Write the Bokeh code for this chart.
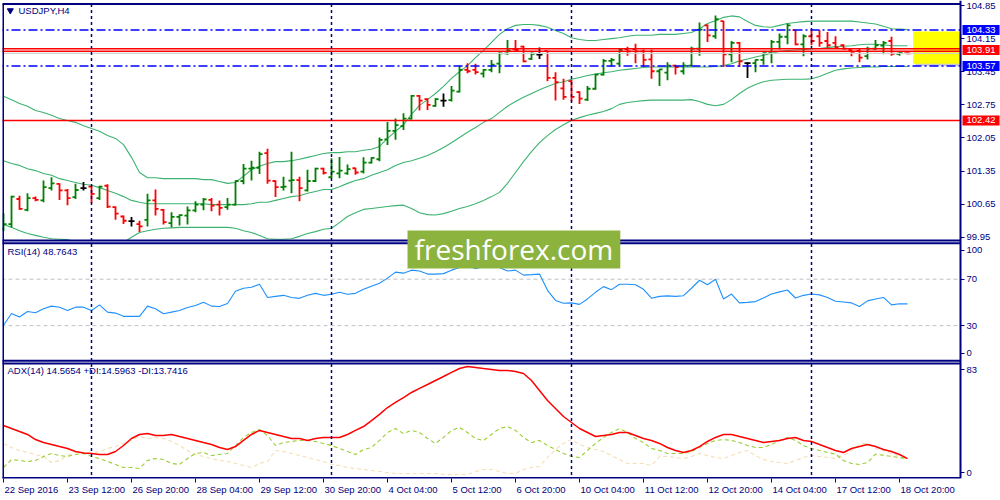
from bokeh.plotting import figure
from bokeh.models import Range1d, FixedTicker, CustomJSTickFormatter, Label
from bokeh.core.properties import value
from bokeh.embed import file_html
from bokeh.resources import INLINE

# ---------------- data (USDJPY H4, 22 Sep 2016 - 19 Oct 2016) ----------------
OPEN = [100.13, 100.23, 100.76, 100.53, 100.78, 100.73, 100.99, 101.08, 100.94, 100.80,
        100.99, 101.02, 100.78, 101.04, 100.59, 100.39, 100.29, 100.23, 100.32, 100.73,
        100.53, 100.25, 100.38, 100.41, 100.52, 100.64, 100.74, 100.64, 100.59, 100.64,
        101.14, 101.40, 101.42, 101.73, 101.14, 101.01, 101.15, 101.16, 100.94, 101.14,
        101.40, 101.22, 101.30, 101.30, 101.41, 101.34, 101.53, 101.60, 102.02, 102.20,
        102.30, 102.46, 102.94, 102.87, 102.73, 102.84, 102.85, 103.03, 103.49, 103.49,
        103.41, 103.49, 103.62, 103.84, 103.93, 103.98, 103.72, 103.81, 103.89, 103.32,
        103.10, 103.25, 103.02, 102.86, 103.09, 103.39, 103.68, 103.62, 103.93, 103.93,
        103.88, 103.71, 103.46, 103.43, 103.58, 103.46, 103.58, 103.94, 104.43, 104.20,
        104.52, 103.82, 104.06, 103.63, 103.63, 103.70, 103.85, 104.08, 104.19, 104.33,
        104.03, 104.20, 104.20, 104.10, 104.06, 104.01, 103.91, 103.89, 103.78, 103.94,
        104.00, 104.10, 103.83, 103.87]
HIGH = [100.46, 100.83, 100.83, 100.88, 100.81, 101.15, 101.22, 101.09, 100.97, 101.08,
        101.12, 101.04, 101.04, 101.07, 100.60, 100.41, 100.38, 100.30, 100.87, 100.96,
        100.55, 100.48, 100.43, 100.60, 100.71, 100.78, 100.78, 100.73, 100.78, 101.15,
        101.50, 101.57, 101.76, 101.82, 101.15, 101.23, 101.76, 101.23, 101.38, 101.42,
        101.42, 101.62, 101.65, 101.49, 101.42, 101.64, 101.64, 102.06, 102.39, 102.46,
        102.57, 102.96, 102.96, 102.89, 102.89, 102.99, 103.15, 103.57, 103.63, 103.62,
        103.51, 103.70, 103.89, 104.12, 104.12, 104.00, 103.86, 103.96, 103.89, 103.44,
        103.30, 103.28, 103.04, 103.15, 103.41, 103.72, 103.74, 103.93, 103.98, 104.04,
        103.92, 103.92, 103.51, 103.65, 103.60, 103.65, 103.98, 104.49, 104.45, 104.64,
        104.52, 104.10, 104.08, 103.65, 103.71, 103.89, 104.12, 104.26, 104.47, 104.33,
        104.24, 104.33, 104.33, 104.29, 104.20, 104.03, 103.92, 103.93, 103.98, 104.12,
        104.10, 104.19, 103.89, 103.89]
LOW = [100.08, 100.16, 100.53, 100.50, 100.71, 100.69, 100.94, 100.74, 100.63, 100.76,
       100.94, 100.67, 100.74, 100.57, 100.32, 100.23, 100.18, 100.06, 100.18, 100.41,
       100.22, 100.16, 100.20, 100.22, 100.48, 100.52, 100.50, 100.41, 100.53, 100.62,
       101.07, 101.15, 101.29, 101.08, 100.80, 100.94, 100.88, 100.71, 100.92, 101.12,
       101.28, 101.20, 101.20, 101.27, 101.27, 101.30, 101.51, 101.56, 101.90, 102.01,
       102.22, 102.44, 102.63, 102.64, 102.71, 102.71, 102.82, 103.01, 103.42, 103.39,
       103.33, 103.44, 103.42, 103.81, 103.88, 103.65, 103.70, 103.72, 103.25, 102.84,
       102.86, 102.82, 102.77, 102.83, 103.07, 103.37, 103.56, 103.58, 103.79, 103.63,
       103.55, 103.30, 103.15, 103.27, 103.39, 103.39, 103.57, 103.79, 104.08, 104.15,
       103.55, 103.65, 103.55, 103.32, 103.44, 103.60, 103.63, 103.92, 104.03, 104.01,
       103.78, 104.01, 103.98, 103.96, 103.93, 103.92, 103.78, 103.65, 103.71, 103.91,
       103.82, 103.79, 103.79, 103.82]
CLOSE = [100.23, 100.81, 100.55, 100.78, 100.74, 101.01, 101.09, 100.94, 100.78, 100.95,
         100.99, 100.87, 101.02, 100.60, 100.45, 100.30, 100.29, 100.18, 100.73, 100.55,
         100.27, 100.38, 100.42, 100.52, 100.64, 100.75, 100.62, 100.57, 100.64, 101.14,
         101.40, 101.42, 101.71, 101.15, 101.01, 101.02, 101.16, 100.99, 101.14, 101.40,
         101.31, 101.34, 101.36, 101.39, 101.32, 101.53, 101.63, 102.01, 102.20, 102.32,
         102.46, 102.94, 102.84, 102.75, 102.87, 102.84, 103.05, 103.49, 103.46, 103.44,
         103.49, 103.60, 103.84, 103.90, 103.91, 103.67, 103.83, 103.81, 103.32, 103.23,
         102.92, 102.92, 102.88, 103.09, 103.39, 103.68, 103.70, 103.91, 103.88, 103.88,
         103.70, 103.46, 103.50, 103.58, 103.55, 103.58, 103.94, 104.34, 104.22, 104.56,
         103.82, 104.06, 103.67, 103.63, 103.70, 103.85, 104.08, 104.19, 104.43, 104.03,
         104.20, 104.10, 104.06, 104.01, 103.96, 103.94, 103.87, 103.75, 103.94, 104.01,
         104.06, 103.83, 103.85, 103.84]

BB_UPPER = [102.93, 102.86, 102.78, 102.72, 102.63, 102.59, 102.53, 102.46, 102.42, 102.38,
            102.31, 102.25, 102.19, 102.10, 102.04, 101.91, 101.64, 101.32, 101.21, 101.21,
            101.19, 101.19, 101.19, 101.19, 101.19, 101.17, 101.17, 101.13, 101.09, 101.11,
            101.24, 101.38, 101.45, 101.51, 101.55, 101.55, 101.57, 101.60, 101.64, 101.68,
            101.72, 101.74, 101.74, 101.76, 101.76, 101.79, 101.81, 101.87, 102.04, 102.19,
            102.33, 102.55, 102.74, 102.86, 102.99, 103.14, 103.31, 103.45, 103.58, 103.75,
            103.90, 104.07, 104.24, 104.36, 104.43, 104.45, 104.45, 104.43, 104.39, 104.32,
            104.26, 104.17, 104.13, 104.11, 104.11, 104.13, 104.15, 104.17, 104.20, 104.22,
            104.22, 104.22, 104.24, 104.24, 104.24, 104.26, 104.28, 104.36, 104.47, 104.53,
            104.60, 104.63, 104.61, 104.51, 104.43, 104.40, 104.39, 104.43, 104.47, 104.49,
            104.51, 104.52, 104.52, 104.52, 104.52, 104.52, 104.52, 104.50, 104.48, 104.46,
            104.41, 104.36, 104.35, 104.34]
BB_MIDDLE = [101.57, 101.51, 101.47, 101.40, 101.36, 101.30, 101.26, 101.19, 101.15, 101.11,
             101.07, 101.05, 101.00, 100.94, 100.88, 100.81, 100.73, 100.69, 100.66, 100.66,
             100.66, 100.66, 100.66, 100.66, 100.66, 100.66, 100.64, 100.64, 100.64, 100.64,
             100.64, 100.66, 100.69, 100.69, 100.73, 100.77, 100.81, 100.83, 100.88, 100.92,
             100.96, 100.96, 101.02, 101.09, 101.15, 101.19, 101.26, 101.32, 101.38, 101.47,
             101.53, 101.57, 101.62, 101.68, 101.76, 101.85, 101.95, 102.06, 102.17, 102.27,
             102.38, 102.46, 102.59, 102.72, 102.82, 102.91, 102.99, 103.07, 103.14, 103.20,
             103.24, 103.29, 103.33, 103.37, 103.40, 103.43, 103.45, 103.48, 103.50, 103.52,
             103.54, 103.55, 103.55, 103.55, 103.55, 103.55, 103.55, 103.55, 103.55, 103.56,
             103.58, 103.62, 103.68, 103.72, 103.76, 103.80, 103.84, 103.88, 103.90, 103.91,
             103.92, 103.93, 103.94, 103.96, 103.98, 103.99, 104.00, 104.02, 104.03, 104.03,
             104.02, 104.00, 104.00, 104.00]
BB_LOWER = [100.22, 100.16, 100.09, 100.03, 99.99, 99.95, 99.92, 99.91, 99.90, 99.86,
            99.80, 99.76, 99.73, 99.71, 99.76, 99.84, 99.95, 100.05, 100.09, 100.12,
            100.14, 100.15, 100.16, 100.16, 100.16, 100.16, 100.16, 100.16, 100.16, 100.14,
            100.09, 100.05, 99.99, 99.92, 99.91, 99.91, 99.92, 99.97, 100.03, 100.07,
            100.12, 100.14, 100.26, 100.39, 100.47, 100.54, 100.56, 100.58, 100.60, 100.62,
            100.63, 100.56, 100.47, 100.43, 100.42, 100.45, 100.50, 100.56, 100.60, 100.66,
            100.73, 100.81, 100.90, 101.09, 101.32, 101.55, 101.76, 101.95, 102.10, 102.23,
            102.33, 102.42, 102.48, 102.53, 102.57, 102.61, 102.67, 102.76, 102.80, 102.82,
            102.84, 102.85, 102.85, 102.85, 102.85, 102.85, 102.86, 102.82, 102.76, 102.73,
            102.76, 102.86, 102.99, 103.10, 103.18, 103.24, 103.27, 103.28, 103.29, 103.29,
            103.29, 103.30, 103.35, 103.42, 103.48, 103.51, 103.53, 103.54, 103.55, 103.55,
            103.56, 103.56, 103.56, 103.56]

RSI = [30.3, 40.4, 37.4, 42.2, 41.1, 44.5, 46.8, 45.9, 43.0, 45.9,
       45.9, 43.0, 47.9, 41.6, 40.8, 38.0, 38.0, 38.0, 46.8, 44.5,
       40.2, 41.6, 43.0, 45.6, 47.4, 50.2, 46.8, 46.5, 49.1, 59.6,
       62.2, 63.0, 65.6, 54.3, 55.2, 56.1, 54.3, 53.5, 56.1, 57.8,
       56.1, 57.0, 58.7, 57.0, 57.8, 61.3, 63.9, 66.5, 70.9, 76.1,
       75.2, 77.8, 77.0, 74.4, 74.4, 74.8, 77.8, 80.0, 82.0, 79.0,
       81.0, 83.0, 80.0, 77.0, 77.8, 73.5, 73.9, 74.4, 60.4, 51.7,
       49.3, 49.6, 48.3, 53.0, 58.7, 63.6, 61.0, 65.6, 65.6, 65.2,
       61.3, 53.6, 55.2, 55.6, 55.2, 55.8, 62.2, 69.1, 65.2, 70.0,
       53.0, 57.2, 49.6, 50.0, 50.7, 53.9, 57.2, 59.1, 60.7, 53.8,
       56.1, 57.2, 56.5, 54.3, 51.0, 50.4, 49.6, 46.5, 51.3, 53.0,
       54.3, 47.9, 48.8, 48.7643]

ADX = [40.0, 37.7, 35.4, 33.1, 29.2, 26.9, 25.4, 23.8, 22.3, 20.0,
       18.8, 18.5, 17.7, 17.7, 20.0, 24.6, 30.0, 33.1, 33.8, 32.3,
       32.3, 33.1, 31.5, 30.0, 28.5, 26.9, 25.4, 23.1, 21.5, 23.8,
       28.5, 33.1, 36.2, 34.6, 33.1, 31.5, 30.0, 30.0, 28.5, 30.0,
       30.8, 30.8, 30.8, 33.1, 36.2, 39.2, 43.8, 48.5, 53.8, 57.7,
       61.5, 65.4, 68.5, 71.5, 74.6, 77.7, 80.8, 83.8, 85.4, 84.6,
       83.8, 83.1, 82.3, 82.3, 81.5, 80.0, 74.6, 66.9, 59.2, 53.1,
       46.9, 42.3, 37.7, 34.6, 31.5, 32.3, 33.1, 34.6, 34.6, 32.3,
       30.0, 28.5, 26.2, 23.1, 20.8, 19.2, 20.8, 23.8, 27.7, 30.8,
       33.1, 33.1, 31.5, 30.0, 28.5, 26.9, 27.7, 28.5, 30.0, 30.8,
       28.5, 27.7, 25.4, 23.1, 20.8, 19.2, 22.3, 23.8, 25.4, 23.8,
       21.5, 20.0, 17.7, 14.5654]
PLUS_DI = [7.7, 13.8, 13.1, 12.3, 13.1, 16.2, 18.5, 16.9, 16.2, 17.7,
           18.5, 16.2, 14.6, 12.3, 10.0, 7.7, 7.7, 6.9, 13.1, 14.6,
           13.8, 10.8, 10.0, 14.6, 18.5, 19.2, 16.9, 17.7, 18.5, 24.6,
           30.8, 34.6, 36.9, 32.3, 24.6, 26.9, 27.7, 28.5, 28.5, 27.7,
           26.2, 24.6, 22.3, 20.0, 17.7, 21.5, 23.1, 28.5, 34.6, 37.7,
           33.8, 36.2, 34.6, 30.0, 26.2, 30.8, 36.2, 38.5, 34.6, 30.0,
           28.5, 33.1, 37.7, 39.2, 36.2, 30.8, 26.9, 28.5, 24.6, 21.5,
           18.5, 16.2, 15.4, 20.8, 26.2, 30.8, 34.6, 37.7, 34.6, 30.0,
           26.9, 22.3, 20.8, 18.5, 18.5, 18.5, 20.0, 23.1, 26.2, 28.5,
           29.2, 28.5, 26.9, 24.6, 23.1, 23.1, 25.4, 28.5, 30.8, 28.5,
           24.6, 22.3, 20.8, 19.2, 18.0, 13.1, 10.8, 10.0, 11.5, 18.0,
           17.0, 16.2, 15.4, 14.5963]
MINUS_DI = [26.2, 23.1, 20.8, 19.2, 17.7, 16.2, 11.5, 13.1, 16.9, 19.2,
            19.2, 18.5, 20.0, 22.3, 23.8, 26.2, 28.5, 31.5, 30.0, 30.8,
            30.0, 27.7, 24.6, 20.8, 17.7, 16.2, 14.6, 13.1, 12.3, 10.8,
            9.2, 7.7, 10.8, 12.3, 20.8, 20.0, 18.5, 16.9, 15.4, 13.8,
            12.3, 10.0, 9.2, 7.7, 6.9, 6.2, 5.4, 4.6, 3.8, 3.1,
            3.1, 3.1, 3.1, 3.1, 3.1, 2.3, 2.3, 2.3, 2.3, 4.6,
            6.2, 6.2, 4.6, 3.1, 3.1, 6.2, 7.7, 8.5, 15.4, 21.5,
            26.2, 29.2, 25.4, 23.1, 21.5, 20.0, 16.9, 13.8, 10.8, 10.8,
            10.8, 9.2, 16.2, 16.2, 15.4, 14.6, 16.2, 18.5, 16.9, 15.4,
            14.6, 16.9, 19.2, 20.8, 16.9, 13.8, 12.3, 11.5, 10.8, 13.1,
            15.4, 16.9, 16.2, 15.4, 14.6, 16.9, 20.8, 25.4, 26.2, 22.3,
            20.8, 18.5, 16.2, 13.7416]

X_TICK_BARS = [0, 8, 16, 24, 32, 40, 48, 56, 64, 72, 80, 88, 96, 104, 112]
X_TICK_LABELS = ["22 Sep 2016", "23 Sep 12:00", "26 Sep 20:00", "28 Sep 04:00", "29 Sep 12:00",
                 "30 Sep 20:00", "4 Oct 04:00", "5 Oct 12:00", "6 Oct 20:00", "10 Oct 04:00",
                 "11 Oct 12:00", "12 Oct 20:00", "14 Oct 04:00", "17 Oct 12:00", "18 Oct 20:00"]
WEEK_SEPARATORS = [11, 41, 71, 101]
PRICE_TICKS = [99.95, 100.65, 101.35, 102.05, 102.75, 103.45, 104.15, 104.85]
BLUE_LEVELS = [104.33, 103.57]
RED_LEVELS = [103.91, 102.42]
RSI_LEVELS = [70, 30]

# ---------------- styles / layout ----------------
FONT = "Liberation Sans"
FS = "9.5px"
NAVY = "#000080"
BB_COL = "#3CB371"
W, H = 1000, 500
ML, MR, MT, MB = 2, 0, 0, 22
FRAME_W = W - ML - MR
FRAME_H = H - MT - MB
PX_PER_BAR = 8.0
X_START = -0.125
X_FULL = X_START + FRAME_W / PX_PER_BAR      # frame runs to the window edge
X_RIGHT = 119.625                              # right border of the chart panels (price scale line)
PRICE_LO, PRICE_HI = 94.851, 104.956
RSI_LO, RSI_HI = -101.7, 310.1
ADX_LO, ADX_HI = -0.77, 366.85
TOP_BORDER = 104.882
MAIN_BOTTOM = 99.882
RSI_TOP, RSI_BOTTOM = 100.9, -0.3
ADX_TOP, ADX_BOTTOM = 87.6, -0.4

N = len(CLOSE)
idx = list(range(N))


def rsi_to_price(v):
    return PRICE_LO + (v - RSI_LO) * (PRICE_HI - PRICE_LO) / (RSI_HI - RSI_LO)


def adx_to_price(v):
    return PRICE_LO + (v - ADX_LO) * (PRICE_HI - PRICE_LO) / (ADX_HI - ADX_LO)


p = figure(width=W, height=H, x_range=Range1d(X_START, X_FULL), y_range=Range1d(PRICE_LO, PRICE_HI),
           y_axis_location="right", output_backend="svg", toolbar_location=None,
           min_border_left=ML, min_border_right=MR, min_border_top=MT, min_border_bottom=MB,
           background_fill_color="white", border_fill_color="white")
p.extra_y_ranges = {"rsi": Range1d(RSI_LO, RSI_HI), "adx": Range1d(ADX_LO, ADX_HI)}
p.xgrid.visible = False
p.ygrid.visible = False
p.outline_line_color = None

# yellow box with shadow (right side)
BOX_L, BOX_R, BOX_T, BOX_B = 113.7, 119.5, 104.30, 103.62
p.quad(left=[BOX_L + 0.3], right=[BOX_R + 0.3], top=[BOX_T - 0.05], bottom=[BOX_B - 0.05],
       fill_color="#8c8c8c", fill_alpha=0.45, line_color=None)
p.quad(left=[BOX_L], right=[BOX_R], top=[BOX_T], bottom=[BOX_B], fill_color="#FFFF00", line_color=None)

# bollinger bands
for band in (BB_UPPER, BB_MIDDLE, BB_LOWER):
    p.line(idx, band, line_color=BB_COL, line_width=1.1)

# OHLC bars
cols = ["#008000" if c > o else ("#FF0000" if c < o else "#000000") for o, c in zip(OPEN, CLOSE)]
TICK = 0.38
p.segment(x0=idx, y0=LOW, x1=idx, y1=HIGH, line_color=cols, line_width=1.8)
p.segment(x0=[i - TICK for i in idx], y0=OPEN, x1=idx, y1=OPEN, line_color=cols, line_width=1.8)
p.segment(x0=idx, y0=CLOSE, x1=[i + TICK for i in idx], y1=CLOSE, line_color=cols, line_width=1.8)


def hlines(ys, y_range_name="default", **kw):
    p.segment(x0=[X_START - 1] * len(ys), x1=[X_RIGHT] * len(ys), y0=ys, y1=ys,
              y_range_name=y_range_name, **kw)


# horizontal levels
hlines(BLUE_LEVELS, line_color="#0000FF", line_width=1.5, line_dash="9 3 2 3")
hlines([RED_LEVELS[0] + 0.025, RED_LEVELS[0] - 0.025], line_color="#FF0000", line_width=1.5)
hlines([CLOSE[-1]], line_color="#d0d0d0", line_width=1.2)
hlines([RED_LEVELS[1]], line_color="#FF0000", line_width=1.5)

# white cover under main panel
p.quad(left=[X_START - 2], right=[X_FULL + 2], top=[MAIN_BOTTOM], bottom=[PRICE_LO - 1],
       fill_color="white", line_color=None)

# RSI panel
hlines(RSI_LEVELS, y_range_name="rsi", line_color="#c0c0c0", line_width=1, line_dash="4 3")
p.line(idx, RSI, y_range_name="rsi", line_color="#1E90FF", line_width=1.1)

# ADX panel
p.line(idx, MINUS_DI, y_range_name="adx", line_color="#F5DEB3", line_width=1.1, line_dash="4 3")
p.line(idx, PLUS_DI, y_range_name="adx", line_color="#9ACD32", line_width=1.1, line_dash="4 3")
p.line(idx, ADX, y_range_name="adx", line_color="#FF0000", line_width=1.5)

# weekly separators
p.segment(x0=WEEK_SEPARATORS, x1=WEEK_SEPARATORS, y0=[TOP_BORDER] * 4, y1=[PRICE_LO] * 4,
          line_color=NAVY, line_width=1.5, line_dash="3 3")

# panel borders
hlines([TOP_BORDER, MAIN_BOTTOM], line_color=NAVY, line_width=2)
hlines([RSI_TOP, RSI_BOTTOM], y_range_name="rsi", line_color=NAVY, line_width=2)
hlines([ADX_TOP, ADX_BOTTOM], y_range_name="adx", line_color=NAVY, line_width=2)
p.segment(x0=[-0.0625], x1=[-0.0625], y0=[TOP_BORDER], y1=[PRICE_LO], line_color=NAVY, line_width=2)

# panel captions
p.scatter(x=[0.85], y=[104.745], marker="inverted_triangle", size=6, fill_color=NAVY, line_color=NAVY)
p.text(x=[1.875], y=[104.745], text=["USDJPY,H4"], text_font=value(FONT), text_font_size=FS,
       text_color=NAVY, text_baseline="middle", text_align="left")
p.text(x=[0.5], y=[94.0], text=["RSI(14) 48.7643"], y_range_name="rsi", text_font=value(FONT),
       text_font_size=FS, text_color=NAVY, text_baseline="middle", text_align="left")
p.text(x=[0.5], y=[82.3], text=["ADX(14) 14.5654 +DI:14.5963 -DI:13.7416"], y_range_name="adx",
       text_font=value(FONT), text_font_size=FS, text_color=NAVY, text_baseline="middle", text_align="left")

# watermark logo
p.quad(left=[50.5], right=[77.1], top=[100.094], bottom=[99.291], fill_color="#8DB33F", line_color=None)
p.text(x=[63.8], y=[99.70], text=["freshforex.com"], text_font=value("Open Sans"), text_font_size="28px",
       text_color="white", text_baseline="middle", text_align="center")

# ---------------- axes ----------------
yt = list(PRICE_TICKS)
yl = ["%.2f" % v for v in PRICE_TICKS]
for v, s in [(94.8, "100"), (70, "70"), (30, "30"), (6.0, "0")]:
    yt.append(rsi_to_price(v)); yl.append(s)
for v, s in [(83, "83"), (3.8, "0")]:
    yt.append(adx_to_price(v)); yl.append(s)

JS = """
for (let i = 0; i < t.length; i++) { if (Math.abs(t[i] - tick) < 1e-6) { return l[i]; } }
return "";
"""
ya = p.yaxis[0]
ya.fixed_location = X_RIGHT          # price scale drawn at the panels' right edge
ya.ticker = FixedTicker(ticks=yt)
ya.formatter = CustomJSTickFormatter(args=dict(t=yt, l=yl), code=JS)
ya.axis_line_color = NAVY
ya.axis_line_width = 2
ya.major_tick_line_color = NAVY
ya.major_tick_out = 4
ya.major_tick_in = 0
ya.major_label_standoff = 2
ya.major_label_text_font = FONT
ya.major_label_text_font_size = FS
ya.major_label_text_color = NAVY

# x labels are left-aligned at their tick in the original: shift label centres by half width
AW = {" ": 278, ":": 278, "S": 667, "e": 556, "p": 556, "O": 778, "c": 500, "t": 278}


def text_w(s):
    return sum(AW.get(ch, 556) for ch in s) / 1000.0 * 9.5


xc = [b + (text_w(s) / 2 + 1) / PX_PER_BAR for b, s in zip(X_TICK_BARS, X_TICK_LABELS)]
xa = p.xaxis[0]
xa.ticker = FixedTicker(ticks=xc, minor_ticks=X_TICK_BARS)
xa.formatter = CustomJSTickFormatter(args=dict(t=xc, l=X_TICK_LABELS), code=JS)
xa.axis_line_color = None
xa.major_tick_line_color = None
xa.major_tick_out = 0
xa.major_tick_in = 0
xa.minor_tick_line_color = NAVY
xa.minor_tick_out = 4
xa.minor_tick_in = 0
xa.major_label_standoff = 1
xa.major_label_text_font = FONT
xa.major_label_text_font_size = FS
xa.major_label_text_color = NAVY

# coloured price labels on the price scale
for lv, colr in [(BLUE_LEVELS[0], "#0000FF"), (RED_LEVELS[0], "#FF0000"),
                 (BLUE_LEVELS[1], "#0000FF"), (RED_LEVELS[1], "#FF0000")]:
    p.add_layout(Label(x=X_RIGHT, y=lv, x_offset=2, text="%.2f" % lv,
                       text_color="white", text_font=FONT, text_font_size=FS,
                       text_baseline="middle", text_align="left",
                       background_fill_color=colr, padding=(4, 2)))

open("out.html", "w").write(file_html(p, INLINE))
